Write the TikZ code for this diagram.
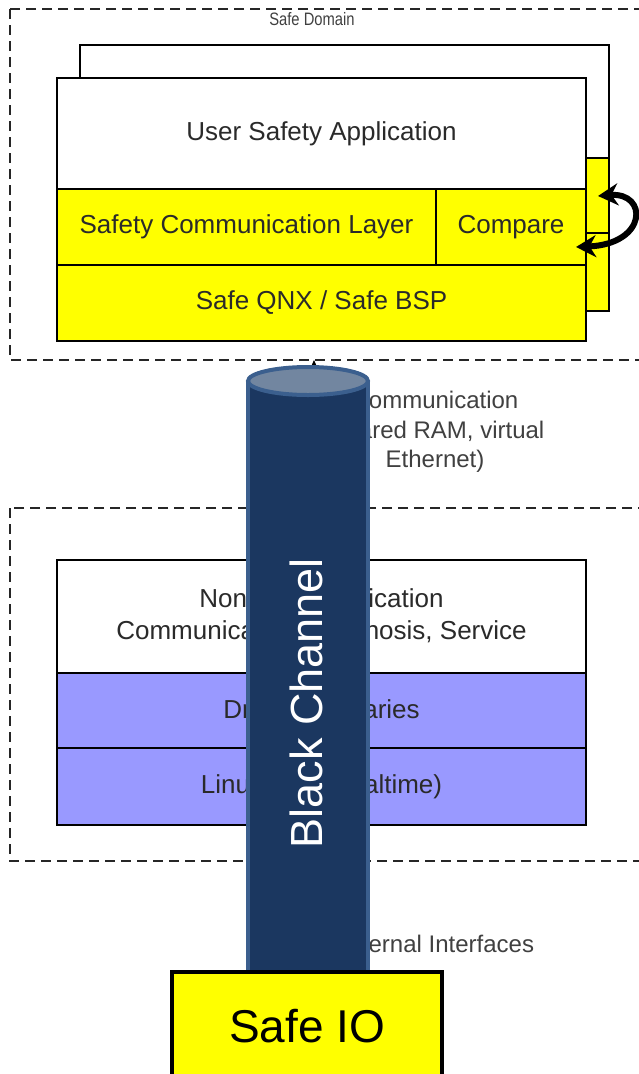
\documentclass[tikz,border=0pt]{standalone}
\usepackage{fontspec}
\setmainfont{Liberation Sans}
\usetikzlibrary{arrows.meta}
\definecolor{safeyellow}{HTML}{FFFF00}
\definecolor{lilac}{HTML}{9999FF}
\definecolor{navy}{HTML}{1B3760}
\definecolor{navyrim}{HTML}{3B5F8E}
\definecolor{navytop}{HTML}{7286A0}
\definecolor{txt}{HTML}{2A2A2A}
\definecolor{lbl}{HTML}{404040}
\begin{document}
\begin{tikzpicture}[x=1pt,y=-1pt,
  layerbox/.style={draw=black, line width=1.5pt, inner sep=0pt, outer sep=0pt, anchor=north west,
     text=txt, font=\fontsize{26}{32}\selectfont, align=center},
  domainbox/.style={draw=black!85, line width=1.5pt, dash pattern=on 10pt off 6pt},
  domainlabel/.style={text=lbl, font=\fontsize{18}{20}\selectfont, inner sep=0pt},
  graylabel/.style={text=lbl, font=\fontsize{24}{29.5}\selectfont, align=center, inner sep=0pt},
  cmparrow/.style={line width=6pt, arrows={Stealth[length=20pt,width=22pt]-Stealth[length=20pt,width=22pt]}}
]
\useasboundingbox (0,0) rectangle (639,1074);
\clip (0,0) rectangle (639,1074);

% domains
\draw[domainbox] (10,9) rectangle (680,360);
\draw[domainbox] (10,508) rectangle (680,861);
\node[domainlabel] (sdl) at (312,19) {\scalebox{0.82}[1]{Safe Domain}};
\node[domainlabel] (nsdl) at (312,519) {\scalebox{0.82}[1]{Non-Safe Domain}};

% redundant (back) channel
\node[layerbox, fill=white, minimum width=529pt, minimum height=113pt] (bUSA) at (80,45) {};
\node[layerbox, fill=safeyellow, minimum width=529pt, minimum height=75pt] (bSCL) at (80,158) {};
\node[layerbox, fill=safeyellow, minimum width=529pt, minimum height=78pt] (bQNX) at (80,233) {};

% front safe stack
\node[layerbox, fill=white, minimum width=529pt, minimum height=111pt] (USA) at (57,78) {User Safety Application};
\node[layerbox, fill=safeyellow, minimum width=379pt, minimum height=76pt] (SCL) at (57,189) {Safety Communication Layer};
\node[layerbox, fill=safeyellow, minimum width=150pt, minimum height=76pt] (CMP) at (436,189) {Compare};
\node[layerbox, fill=safeyellow, minimum width=529pt, minimum height=76pt] (QNX) at (57,265) {Safe QNX / Safe BSP};

% compare arrow
\coordinate (cmpA) at (598,196);
\coordinate (cmpB) at (576,247);
\draw[cmparrow] (cmpA) .. controls (648,192) and (648,244) .. (cmpB);

% non-safe stack
\node[layerbox, fill=white, minimum width=529pt, minimum height=113pt] (NSA) at (57,560) {Non-Safe Application\\Communication, Diagnosis, Service};
\node[layerbox, fill=lilac, minimum width=529pt, minimum height=75pt] (DRV) at (57,673) {Drivers, Libraries};
\node[layerbox, fill=lilac, minimum width=529pt, minimum height=77pt] (LNX) at (57,748) {Linux (non-Realtime)};

% labels
\node[graylabel] (comm) at (435,432) {Communication\\(shared RAM, virtual\\Ethernet)};
\node[graylabel] (ext) at (434,944) {External Interfaces};

% arrow into safe domain
\coordinate (sdbot) at (314,360);
\coordinate (cyltop) at (314,381);
\draw[-{Stealth[length=8pt,width=7pt]}, line width=1.2pt] (cyltop) -- (sdbot);

% black channel cylinder
\fill[navy] (248,381) rectangle (368,1000);
\draw[navyrim, line width=4pt] (248,381) -- (248,1000) (368,381) -- (368,1000);
\draw[navyrim, fill=navytop, line width=4pt] (308,381) ellipse [x radius=60, y radius=14];
\node[rotate=90, text=white, font=\fontsize{45}{54}\selectfont, inner sep=0pt] (bc) at (306,703) {Black Channel};

% safe IO
\node[draw=black, line width=4pt, fill=safeyellow, anchor=north, minimum width=270pt, minimum height=108pt,
      inner sep=0pt, font=\fontsize{46}{55}\selectfont] (sio) at (307,970) {Safe IO};
\end{tikzpicture}
\end{document}
